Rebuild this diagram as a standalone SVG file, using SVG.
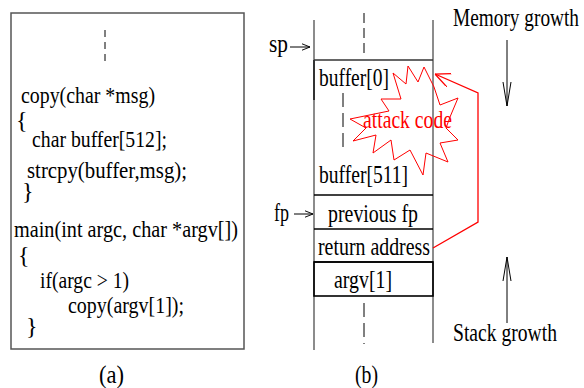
<svg xmlns="http://www.w3.org/2000/svg" width="584" height="388" viewBox="0 0 584 388">
<style>
text{font-family:"Liberation Serif","Times New Roman",serif;font-size:25px;fill:#000}
#code-box text{font-size:24px}
.red{fill:#ff0000}
.frame{fill:none;stroke:#555;stroke-width:1.5}
.col{stroke:#666;stroke-width:1.5;fill:none}
.hl{stroke:#000;stroke-width:1.6}
.dash{stroke:#000;stroke-width:1;fill:none}
.ptr{stroke:#000;stroke-width:1;fill:none}
</style>
<defs>
<marker id="oa" viewBox="0 0 10 10" refX="10" refY="5" markerWidth="8" markerHeight="8" markerUnits="userSpaceOnUse" orient="auto">
<path d="M0,1 L10,5 L0,9" fill="none" stroke="#000" stroke-width="1.2"/>
</marker>
<marker id="na" viewBox="0 0 24 10" refX="24" refY="5" markerWidth="24" markerHeight="10" markerUnits="userSpaceOnUse" orient="auto">
<path d="M0,1 L24,5 L0,9" fill="none" stroke="#000" stroke-width="1"/>
</marker>
<marker id="ra" viewBox="0 0 16 14" refX="16" refY="7" markerWidth="16" markerHeight="14" markerUnits="userSpaceOnUse" orient="auto">
<path d="M0,0 L16,7 L1,14" fill="none" stroke="#ff0000" stroke-width="1.3"/>
</marker>
</defs>

<g id="code-box">
<rect class="frame" x="11" y="13" width="233" height="336"/>
<line class="dash" x1="105" y1="30" x2="105" y2="66" stroke-dasharray="7,5"/>
<text x="21" y="103" textLength="134" lengthAdjust="spacingAndGlyphs">copy(char *msg)</text>
<text x="16" y="128">{</text>
<text x="32" y="147" textLength="135" lengthAdjust="spacingAndGlyphs">char buffer[512];</text>
<text x="27" y="178" textLength="160" lengthAdjust="spacingAndGlyphs">strcpy(buffer,msg);</text>
<text x="22" y="199">}</text>
<text x="14" y="237" textLength="224" lengthAdjust="spacingAndGlyphs">main(int argc, char *argv[])</text>
<text x="18" y="263">{</text>
<text x="40" y="288" textLength="89" lengthAdjust="spacingAndGlyphs">if(argc &gt; 1)</text>
<text x="68" y="313" textLength="116" lengthAdjust="spacingAndGlyphs">copy(argv[1]);</text>
<text x="26" y="334">}</text>
</g>
<text id="label-a" x="99" y="383" textLength="25" lengthAdjust="spacingAndGlyphs">(a)</text>

<g id="stack">
<line class="col" x1="314" y1="20" x2="314" y2="350"/>
<line class="col" x1="433" y1="20" x2="433" y2="343"/>
<line class="dash" x1="364" y1="13" x2="364" y2="54" stroke-dasharray="10,5"/>
<line class="dash" x1="364" y1="303" x2="364" y2="344" stroke-dasharray="14,6"/>
</g>

<g id="buffer">
<line x1="314" y1="60" x2="433" y2="60" stroke="#333" stroke-width="1.5"/>
<line x1="314" y1="60" x2="314" y2="100" stroke="#333" stroke-width="2"/>
<line class="dash" x1="343" y1="93" x2="343" y2="148" stroke-dasharray="14,6"/>
<text x="319" y="86" textLength="70" lengthAdjust="spacingAndGlyphs">buffer[0]</text>
<text x="319" y="183" textLength="89" lengthAdjust="spacingAndGlyphs">buffer[511]</text>
</g>

<g id="attack-code">
<polygon points="393,73 401,99 381,99 389,111 350,119 366,128 353,141 376,135 373,153 391,140 394,160 410,150 423,175 426,153 448,162 440,143 458,140 446,128 450,117 458,98 440,105 434,87 424,67 418,82 408,66 406,84" fill="none" stroke="#ff0000" stroke-width="1"/>
<text class="red" x="363" y="128" textLength="89" lengthAdjust="spacingAndGlyphs">attack code</text>
</g>

<g id="previous-fp">
<line class="hl" x1="314" y1="195" x2="433" y2="195" stroke-width="2.2"/>
<text x="328" y="222" textLength="90" lengthAdjust="spacingAndGlyphs">previous fp</text>
</g>

<g id="return-address">
<line class="hl" x1="314" y1="229" x2="433" y2="229"/>
<text x="318" y="255" textLength="112" lengthAdjust="spacingAndGlyphs">return address</text>
</g>

<g id="argv1">
<line class="hl" x1="314" y1="262" x2="433" y2="262"/>
<rect x="314" y="262" width="119" height="34" fill="none" stroke="#000" stroke-width="1.6"/>
<text x="334" y="288" textLength="58" lengthAdjust="spacingAndGlyphs">argv[1]</text>
</g>

<g id="sp-label">
<text x="269" y="52" textLength="19" lengthAdjust="spacingAndGlyphs">sp</text>
</g>
<g id="fp-label">
<text x="274" y="221" textLength="15" lengthAdjust="spacingAndGlyphs">fp</text>
</g>
<g id="memory-growth">
<text x="453" y="26" textLength="126" lengthAdjust="spacingAndGlyphs">Memory growth</text>
</g>
<g id="stack-growth">
<text x="453" y="341" textLength="104" lengthAdjust="spacingAndGlyphs">Stack growth</text>
</g>
<text id="label-b" x="355" y="383" textLength="23" lengthAdjust="spacingAndGlyphs">(b)</text>

<g id="connectors">
<line class="ptr" x1="290" y1="47" x2="310" y2="47" marker-end="url(#oa)"/>
<line class="ptr" x1="294" y1="214" x2="313" y2="214" marker-end="url(#oa)"/>
<line class="ptr" x1="507" y1="40" x2="507" y2="106" marker-end="url(#na)"/>
<line class="ptr" x1="507" y1="323" x2="507" y2="257" marker-end="url(#na)"/>
<polyline points="433,248 478,222 478,93 435,74" fill="none" stroke="#ff0000" stroke-width="1.3" marker-end="url(#ra)"/>
</g>
</svg>
